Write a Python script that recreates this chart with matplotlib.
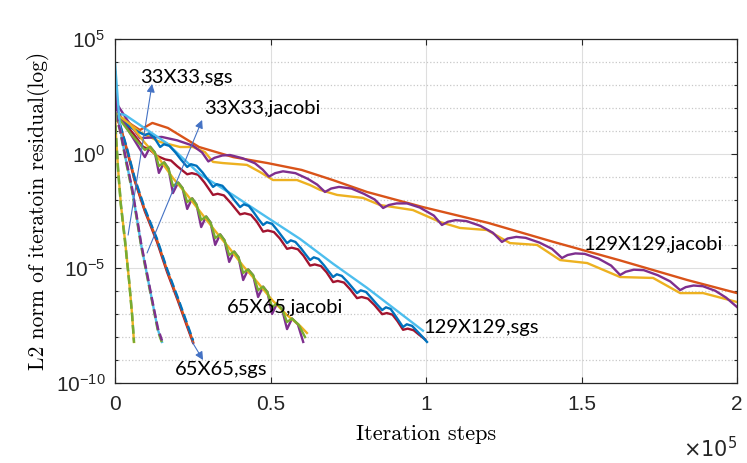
import numpy as np
import matplotlib.pyplot as plt

# x in units of 1e5 iteration steps, y given as log10(residual)
# --- 33X33 group A (yellow, fastest) ---
xa = [0, 0.003, 0.010, 0.019, 0.032, 0.045, 0.055, 0.061]
ya_yel = [1.77, 0.81, -0.71, -2.24, -3.77, -5.51, -7.04, -8.21]
ya_grn = [1.77, 0.75, -0.80, -2.30, -3.85, -5.55, -7.10, -8.25]
ya_cya = [1.77, 0.85, -0.65, -2.20, -3.70, -5.45, -7.00, -8.15]
# --- 33X33 group B (cyan) ---
xb = [0, 0.016, 0.035, 0.055, 0.071, 0.084, 0.103, 0.122, 0.138, 0.151]
yb_cya = [3.95, 1.10, -0.28, -1.58, -2.89, -3.98, -5.29, -6.60, -7.69, -8.21]
yb_grn = [1.77, 1.00, -0.35, -1.65, -2.95, -4.05, -5.35, -6.65, -7.75, -8.25]
yb_pur = [1.77, 1.05, -0.22, -1.52, -2.82, -3.92, -5.22, -6.55, -7.62, -8.15]
# --- 65X65 sgs group C (red) ---
xc = [0, 0.016, 0.039, 0.064, 0.096, 0.135, 0.167, 0.203, 0.232, 0.251]
yc_ora = [1.77, 1.25, 0.16, -1.15, -2.46, -3.77, -5.07, -6.38, -7.47, -8.21]
yc_red = [1.77, 1.20, 0.10, -1.22, -2.52, -3.85, -5.15, -6.45, -7.55, -8.25]
yc_blu = [1.77, 1.28, 0.20, -1.10, -2.40, -3.72, -5.02, -6.32, -7.42, -8.15]
# --- 65X65 jacobi group D ---
xd_yel = [0, 0.048, 0.096, 0.145, 0.186, 0.232, 0.277, 0.322, 0.367, 0.412, 0.460, 0.505, 0.553, 0.595, 0.617]
yd_yel = [1.77, 1.29, 0.47, -0.28, -1.06, -1.80, -2.59, -3.37, -4.11, -4.90, -5.64, -6.38, -7.04, -7.51, -7.82]
xd_grn = [0, 0.048, 0.096, 0.113, 0.128, 0.141, 0.158, 0.172, 0.186, 0.203, 0.217, 0.232, 0.248, 0.262,
          0.277, 0.293, 0.307, 0.322, 0.338, 0.352, 0.367, 0.383, 0.397, 0.412, 0.428, 0.444, 0.460, 0.476,
          0.490, 0.505, 0.521, 0.537, 0.553, 0.569, 0.590, 0.611]
yd_grn = [1.77, 0.90, 0.16, 0.30, 0.05, -0.54, -0.38, -0.65, -1.41, -1.26, -1.50, -2.11, -1.95, -2.22,
          -2.89, -2.74, -3.00, -3.68, -3.52, -3.78, -4.42, -4.27, -4.52, -5.20, -5.05, -5.30, -5.95, -5.80,
          -6.04, -6.69, -6.53, -6.78, -7.34, -7.19, -7.45, -8.00]
xd_pur = [0, 0.006, 0.048, 0.096, 0.113, 0.128, 0.141, 0.158, 0.172, 0.186, 0.203, 0.217, 0.232, 0.248, 0.262,
          0.277, 0.293, 0.307, 0.322, 0.338, 0.352, 0.367, 0.383, 0.397, 0.412, 0.428, 0.444, 0.460, 0.476,
          0.490, 0.505, 0.521, 0.537, 0.553, 0.569, 0.588, 0.605]
yd_pur = [3.56, 1.90, 0.90, -0.15, 0.30, 0.05, -0.84, -0.38, -0.65, -1.72, -1.26, -1.50, -2.41, -1.95, -2.22,
          -3.20, -2.74, -3.00, -3.98, -3.52, -3.78, -4.72, -4.27, -4.52, -5.51, -5.05, -5.30, -6.25, -5.80,
          -6.04, -6.99, -6.53, -6.78, -7.65, -7.19, -7.45, -8.21]
# --- 129X129 sgs group E ---
xe_cya = [0, 0.032, 0.080, 0.167, 0.273, 0.379, 0.489, 0.595, 0.701, 0.810, 0.916, 0.990]
ye_cya = [1.77, 1.69, 1.25, 0.45, -0.90, -1.80, -2.78, -3.72, -4.80, -5.85, -6.95, -7.72]
xe_blu = [0, 0.02, 0.048, 0.075, 0.096, 0.108, 0.125, 0.145,
          0.157, 0.175, 0.195, 0.212, 0.232, 0.244, 0.262, 0.282, 0.298, 0.315,
          0.327, 0.345, 0.365, 0.382, 0.402, 0.414, 0.430, 0.447, 0.461, 0.476,
          0.488, 0.505, 0.523, 0.538, 0.553, 0.565, 0.580, 0.598, 0.612, 0.627,
          0.639, 0.654, 0.672, 0.686, 0.701, 0.713, 0.729, 0.748, 0.763, 0.778,
          0.790, 0.807, 0.826, 0.842, 0.859, 0.871, 0.886, 0.900, 0.913, 0.926,
          0.938, 0.955, 0.972, 0.988, 1.003]
ye_blu = [1.77, 1.50, 1.16, 0.95, 0.81, 0.88, 0.72, 0.29,
          0.41, 0.34, 0.04, -0.26, -0.58, -0.46, -0.53, -0.83, -1.13, -1.45,
          -1.33, -1.40, -1.70, -2.00, -2.33, -2.21, -2.28, -2.58, -2.85, -3.11,
          -2.99, -3.06, -3.36, -3.63, -3.90, -3.78, -3.85, -4.13, -4.38, -4.64,
          -4.52, -4.59, -4.87, -5.12, -5.38, -5.26, -5.33, -5.60, -5.84, -6.08,
          -5.96, -6.03, -6.32, -6.57, -6.82, -6.70, -6.77, -7.04, -7.30, -7.56,
          -7.44, -7.51, -7.75, -7.98, -8.21]
xe_red = [0, 0.03, 0.06, 0.09, 0.113, 0.135, 0.161, 0.18, 0.20, 0.232,
          0.247, 0.267, 0.287, 0.315, 0.330, 0.350, 0.372, 0.402,
          0.417, 0.437, 0.455, 0.476, 0.491, 0.511, 0.530, 0.553,
          0.568, 0.588, 0.606, 0.627, 0.642, 0.662, 0.680, 0.701,
          0.716, 0.736, 0.755, 0.778, 0.793, 0.813, 0.834, 0.859,
          0.874, 0.892, 0.908, 0.926, 0.941, 0.960, 0.978, 0.997]
ye_red = [1.77, 1.35, 0.85, 0.30, 0.16, -0.10, -0.25, -0.30, -0.55, -0.90,
          -0.85, -0.92, -1.25, -1.80, -1.75, -1.82, -2.15, -2.65,
          -2.60, -2.67, -2.95, -3.40, -3.35, -3.42, -3.70, -4.15,
          -4.10, -4.17, -4.45, -4.88, -4.83, -4.90, -5.17, -5.60,
          -5.55, -5.62, -5.90, -6.30, -6.25, -6.32, -6.60, -7.00,
          -6.95, -7.02, -7.30, -7.68, -7.63, -7.70, -7.90, -8.10]
# --- 129X129 jacobi group F ---
xf_ora = [0, 0.03, 0.08, 0.12, 0.17, 0.27, 0.38, 0.49, 0.60, 0.70, 0.81, 0.99, 1.20, 1.41, 1.62, 1.84, 2.0]
yf_ora = [1.77, 1.47, 1.03, 1.34, 1.12, 0.29, -0.15, -0.41, -0.71, -1.15, -1.67, -2.33, -3.02, -3.85, -4.64, -5.51, -6.08]
xf_yel = [0, 0.032, 0.08, 0.145, 0.209, 0.251, 0.289, 0.315, 0.347, 0.424, 0.466, 0.508, 0.585, 0.627, 0.659,
          0.714, 0.797, 0.852, 0.958, 1.045, 1.109, 1.196, 1.27, 1.357, 1.431, 1.518, 1.624, 1.73, 1.817, 1.891, 2.0]
yf_yel = [1.77, 1.47, 0.94, 0.51, 0.29, 0.29, 0.07, -0.36, -0.41, -0.49, -0.80, -1.15, -1.15, -1.37, -1.58,
          -1.80, -1.93, -2.24, -2.46, -2.98, -3.24, -3.33, -3.90, -3.98, -4.64, -4.77, -5.38, -5.42, -6.08, -6.08, -6.47]
xf_pur = [0, 0.006, 0.039, 0.080, 0.113, 0.150, 0.200, 0.250, 0.280, 0.300, 0.320, 0.345, 0.370, 0.410,
          0.450, 0.475, 0.495, 0.515, 0.540, 0.580, 0.620, 0.650, 0.675, 0.695, 0.720, 0.760, 0.800, 0.835,
          0.862, 0.880, 0.905, 0.939, 0.980, 1.025, 1.051, 1.070, 1.095, 1.130, 1.175, 1.215, 1.244, 1.262,
          1.290, 1.320, 1.365, 1.405, 1.437, 1.455, 1.480, 1.510, 1.555, 1.595, 1.624, 1.642, 1.668, 1.700,
          1.745, 1.785, 1.817, 1.835, 1.860, 1.890, 1.930, 1.965, 2.0]
yf_pur = [3.56, 2.17, 1.47, 0.68, 0.70, 0.73, 0.58, 0.35, 0.05, -0.34, -0.18, -0.08, -0.06, -0.20,
          -0.42, -0.70, -1.00, -0.85, -0.77, -0.85, -1.10, -1.35, -1.67, -1.52, -1.45, -1.52, -1.75, -2.00,
          -2.37, -2.24, -2.17, -2.17, -2.35, -2.70, -3.11, -2.97, -2.90, -2.94, -3.15, -3.45, -3.85, -3.70,
          -3.63, -3.67, -3.88, -4.15, -4.55, -4.42, -4.35, -4.37, -4.58, -4.88, -5.29, -5.15, -5.06, -5.08,
          -5.30, -5.57, -5.95, -5.82, -5.75, -5.78, -5.98, -6.28, -6.69]

labels = ["33X33,sgs", "33X33,jacobi", "65X65,sgs", "65X65,jacobi", "129X129,sgs", "129X129,jacobi"]

c_blu, c_ora, c_yel, c_pur = "#0072BD", "#D95319", "#EDB120", "#7E2F8E"
c_grn, c_cya, c_red = "#77AC30", "#4DBEEE", "#A2142F"

plt.rcParams['mathtext.fontset'] = 'custom'
plt.rcParams['mathtext.rm'] = 'Liberation Sans'
plt.rcParams['mathtext.it'] = 'Liberation Sans:italic'

fig = plt.figure(figsize=(7.47, 4.63), dpi=100)
ax = fig.add_axes([0.154, 0.1728, 0.8327, 0.743])

series = [
    (xf_ora, yf_ora, c_ora, "-"), (xf_yel, yf_yel, c_yel, "-"), (xf_pur, yf_pur, c_pur, "-"),
    (xe_red, ye_red, c_red, "-"), (xe_cya, ye_cya, c_cya, "-"), (xe_blu, ye_blu, c_blu, "-"),
    (xd_pur, yd_pur, c_pur, "-"), (xd_yel, yd_yel, c_yel, "-"), (xd_grn, yd_grn, c_grn, "-"),
    (xc, yc_red, c_red, "-"), (xc, yc_ora, c_ora, "-"), (xc, yc_blu, c_blu, "--"),
    (xb, yb_cya, c_cya, "-"), (xb, yb_grn, c_grn, "--"), (xb, yb_pur, c_pur, "--"),
    (xa, ya_cya, c_cya, "--"), (xa, ya_yel, c_yel, "-"), (xa, ya_grn, c_grn, "--"),
]
for x, y, c, ls in series:
    ax.plot(x, 10.0**np.array(y), color=c, ls=ls, lw=1.7, solid_joinstyle="round")

ax.set_yscale("log")
ax.set_xlim(0, 2)
ax.set_ylim(1e-10, 1e5)
ax.set_yticks([1e-10, 1e-5, 1e0, 1e5])
ax.set_yticklabels([r"$\mathregular{10^{-10}}$", r"$\mathregular{10^{-5}}$",
                    r"$\mathregular{10^{0}}$", r"$\mathregular{10^{5}}$"])
ax.set_yticks([10.0**k for k in range(-9, 5) if k % 5 != 0], minor=True)
ax.yaxis.set_minor_formatter(plt.NullFormatter())
ax.set_xticks([0, 0.5, 1, 1.5, 2])
ax.set_xticklabels(["0", "0.5", "1", "1.5", "2"])
ax.tick_params(which="both", direction="in", top=True, right=True, colors="#262626",
               labelsize=15, labelcolor="#262626")
ax.tick_params(axis="x", pad=9)
ax.tick_params(axis="y", pad=7)
ax.tick_params(which="major", length=4, width=0.8)
ax.tick_params(which="minor", length=2.5, width=0.8)
for tl in ax.get_xticklabels() + ax.get_yticklabels():
    tl.set_fontfamily("Liberation Sans")
for s in ax.spines.values():
    s.set_color("#262626")
    s.set_linewidth(0.9)
ax.grid(which="major", color="#dedede", ls="-", lw=0.8)
ax.grid(which="minor", axis="y", color="#c8c8c8", ls=":", lw=0.9)
ax.set_axisbelow(True)

ax.set_xlabel("Iteration steps", fontfamily="cmr10", fontsize=16, labelpad=7)
ax.set_ylabel("L2 norm of iteratoin residual(log)", fontfamily="cmr10", fontsize=15.5, labelpad=4)
ax.text(1.0, -0.155, r"$\mathregular{\times10^{5}}$", transform=ax.transAxes, ha="right", va="top",
        fontsize=15, color="#262626")

tfont = dict(fontfamily="Lato", fontsize=14.5, color="black", va="center", ha="left")
arrow = dict(arrowstyle="-|>", color="#4472C4", lw=0.8, mutation_scale=12, shrinkA=0, shrinkB=0)
ax.annotate("", xy=(0.119, 10**3.04), xytext=(0.042, 10**-3.55), arrowprops=arrow)
ax.annotate("", xy=(0.28, 10**1.47), xytext=(0.103, 10**-4.33), arrowprops=arrow)
ax.annotate("", xy=(0.283, 10**-9.0), xytext=(0.248, 10**-8.21), arrowprops=arrow)
ax.text(0.080, 10**3.34, labels[0], **tfont)
ax.text(0.286, 10**1.99, labels[1], **tfont)
ax.text(0.193, 10**-9.43, labels[2], **tfont)
ax.text(0.36, 10**-6.69, labels[3], **tfont)
ax.text(0.99, 10**-7.56, labels[4], **tfont)
ax.text(1.505, 10**-3.98, labels[5], **tfont)

fig.savefig("out.png", dpi=100, facecolor="white")
